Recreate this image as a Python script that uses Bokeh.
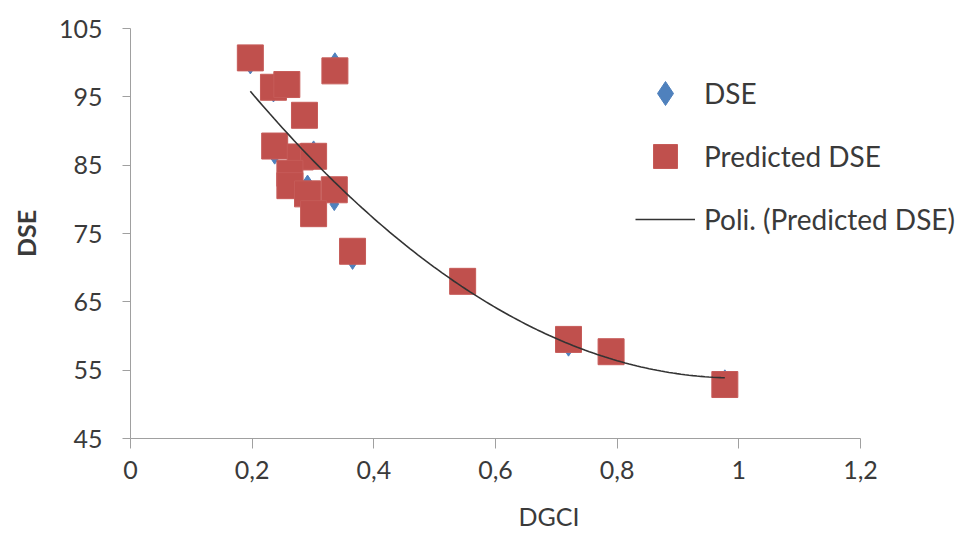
import numpy as np
from bokeh.plotting import figure
from bokeh.models import Range1d, FixedTicker, Legend, LegendItem, ColumnDataSource
from bokeh.embed import file_html
from bokeh.resources import INLINE

# ---- data ----
dgci = [0.197, 0.235, 0.257, 0.336, 0.286, 0.237, 0.279, 0.301, 0.262,
        0.262, 0.291, 0.335, 0.301, 0.365, 0.546, 0.720, 0.790, 0.977]
dse = [99.3, 95.2, 96.8, 100.5, 92.3, 86.1, 86.2, 87.6, 83.8,
       82.0, 82.6, 79.3, 77.9, 70.7, 68.0, 58.0, 57.7, 54.1]
predicted_dse = [100.7, 96.4, 96.8, 98.8, 92.3, 87.8, 86.2, 86.3, 83.8,
                 82.0, 80.8, 81.4, 77.9, 72.4, 68.0, 59.5, 57.7, 52.9]

x_ticks = [0, 0.2, 0.4, 0.6, 0.8, 1.0, 1.2]
x_tick_labels = ["0", "0,2", "0,4", "0,6", "0,8", "1", "1,2"]
y_ticks = [45, 55, 65, 75, 85, 95, 105]
y_tick_labels = ["45", "55", "65", "75", "85", "95", "105"]

series_names = ["DSE", "Predicted DSE", "Poli. (Predicted DSE)"]

FONT = "Lato"
TXT = "#3a3a3a"
AXC = "#a0a0a0"

W, H = 967, 541
LEFT, TOP, BOTTOM = 130, 28, 103
X_END = (W - LEFT) / ((860 - 130) / 1.2)  # axis drawn to 1.2, free room at right for the legend

# polynomial (order 2) trendline of the predicted series, as in the original
coef = np.polyfit(dgci, predicted_dse, 2)
tx = np.linspace(min(dgci), max(dgci), 120)
ty = np.polyval(coef, tx)

src = ColumnDataSource(dict(x=dgci, dse=dse, pred=predicted_dse))
trend = ColumnDataSource(dict(x=tx, y=ty))

p = figure(width=W, height=H, output_backend="svg", toolbar_location=None,
           x_range=Range1d(0, X_END), y_range=Range1d(45, 105), title=None)
p.min_border_left = LEFT
p.min_border_top = TOP
p.min_border_bottom = BOTTOM
p.min_border_right = 0
p.outline_line_color = None
p.grid.visible = False
p.background_fill_color = "white"
p.border_fill_color = "white"

r_dse = p.scatter("x", "dse", source=src, marker="diamond", size=13,
                  fill_color="#4F81BD", line_color="#4F81BD")
r_pred = p.scatter("x", "pred", source=src, marker="square", size=26,
                   fill_color="#C0504D", line_color="#C65B58", line_width=1)
r_line = p.line("x", "y", source=trend, line_color="#333333", line_width=1.6)

# axes
xa = p.xaxis[0]
xa.ticker = FixedTicker(ticks=x_ticks)
xa.major_label_overrides = {t: l for t, l in zip(x_ticks, x_tick_labels)}
xa.axis_label = "DGCI"
xa.bounds = (x_ticks[0], x_ticks[-1])
ya = p.yaxis[0]
ya.ticker = FixedTicker(ticks=y_ticks)
ya.major_label_overrides = {t: l for t, l in zip(y_ticks, y_tick_labels)}
ya.axis_label = "DSE"

for ax in (xa, ya):
    ax.axis_line_color = AXC
    ax.major_tick_line_color = AXC
    ax.minor_tick_line_color = None
    ax.major_tick_in = 0
    ax.major_label_text_font = FONT
    ax.major_label_text_font_size = "25px"
    ax.major_label_text_color = TXT
    ax.axis_label_text_font = FONT
    ax.axis_label_text_font_size = "25px"
    ax.axis_label_text_color = TXT
xa.major_tick_out = 10
xa.major_label_standoff = 12
xa.axis_label_standoff = 19
xa.axis_label_text_font_style = "normal"
ya.major_tick_out = 8
ya.major_label_standoff = 20
ya.axis_label_standoff = 15
ya.axis_label_text_font_style = "bold"

legend = Legend(items=[LegendItem(label=series_names[0], renderers=[r_dse]),
                       LegendItem(label=series_names[1], renderers=[r_pred]),
                       LegendItem(label=series_names[2], renderers=[r_line])],
                location=(505, 189))
legend.glyph_width = 60
legend.glyph_height = 60
legend.label_height = 60
legend.spacing = 3
legend.padding = 0
legend.margin = 0
legend.label_standoff = 9
legend.border_line_color = None
legend.background_fill_alpha = 0
legend.label_text_font = FONT
legend.label_text_font_size = "28px"
legend.label_text_color = TXT
p.add_layout(legend, "center")

open("out.html", "w").write(file_html(p, INLINE))
